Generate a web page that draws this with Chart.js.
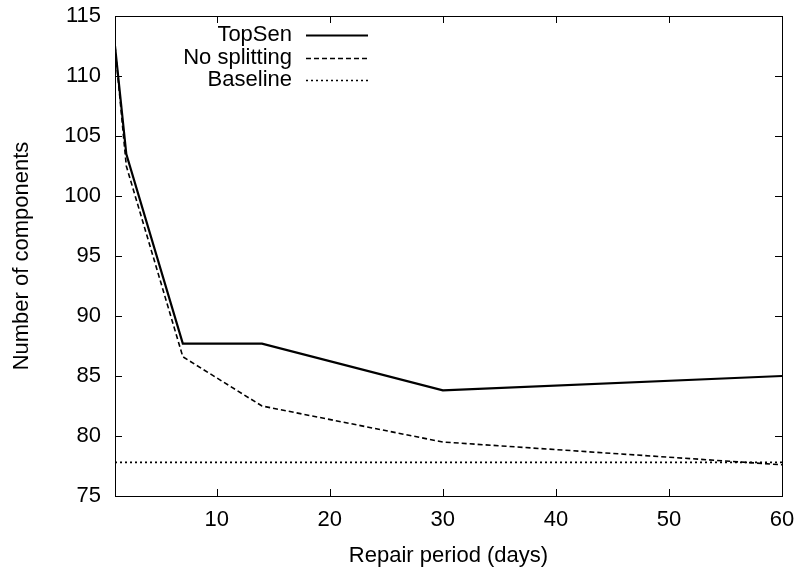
<!DOCTYPE html>
<html>
<head>
<meta charset="utf-8">
<script src="https://cdn.jsdelivr.net/npm/chart.js@4/dist/chart.umd.min.js"></script>
<style>
  html, body { margin: 0; padding: 0; background: #fff; }
  #wrap { width: 800px; height: 569px; }
</style>
</head>
<body>
<div id="wrap"><canvas id="c" width="800" height="569"></canvas></div>
<script>
// repair period (days) on x, number of components on y
var periods     = [1, 2, 7, 14, 30, 60];
var topSen      = [112.5, 103.5, 87.7, 87.7, 83.8, 85.0];
var noSplitting = [112.5, 102.5, 86.6, 82.5, 79.5, 77.6];
var baseline    = [77.8, 77.8, 77.8, 77.8, 77.8, 77.8];
var xTicks = [10, 20, 30, 40, 50, 60];
var yTicks = [75, 80, 85, 90, 95, 100, 105, 110, 115];

var FONT = 'Liberation Sans, Arial, Helvetica, sans-serif';
var FS = 22;

function pts(ys) {
  return periods.map(function (x, i) { return { x: x, y: ys[i] }; });
}

// gnuplot-style frame: box + inward ticks on all four sides
var frame = {
  id: 'frame',
  afterDatasetsDraw: function (chart) {
    var ctx = chart.ctx, a = chart.chartArea;
    var xs = chart.scales.x, ys = chart.scales.y;
    var L = 7;
    ctx.save();
    ctx.strokeStyle = '#000';
    ctx.lineWidth = 1;
    ctx.beginPath();
    xTicks.forEach(function (v) {
      var px = Math.round(xs.getPixelForValue(v)) + 0.5;
      ctx.moveTo(px, a.bottom); ctx.lineTo(px, a.bottom - L);
      ctx.moveTo(px, a.top);    ctx.lineTo(px, a.top + L);
    });
    yTicks.forEach(function (v) {
      var py = Math.round(ys.getPixelForValue(v)) + 0.5;
      ctx.moveTo(a.left, py);  ctx.lineTo(a.left + L, py);
      ctx.moveTo(a.right, py); ctx.lineTo(a.right - L, py);
    });
    ctx.stroke();
    ctx.strokeRect(Math.round(a.left) + 0.5, Math.round(a.top) + 0.5,
                   Math.round(a.right - a.left), Math.round(a.bottom - a.top));
    ctx.restore();
  }
};

// key: text right-aligned, sample line to the right of it
var key = {
  id: 'key',
  afterDatasetsDraw: function (chart) {
    var ctx = chart.ctx;
    var rows = [35, 58, 80];
    ctx.save();
    ctx.font = FS + 'px ' + FONT;
    ctx.textAlign = 'right';
    ctx.textBaseline = 'middle';
    chart.data.datasets.forEach(function (ds, i) {
      var y = rows[i];
      ctx.fillStyle = '#000';
      ctx.fillText(ds.label, 292, y);
      ctx.strokeStyle = ds.borderColor;
      ctx.lineWidth = ds.borderWidth;
      ctx.setLineDash(ds.borderDash || []);
      ctx.beginPath();
      ctx.moveTo(306, y + 0.5);
      ctx.lineTo(368, y + 0.5);
      ctx.stroke();
    });
    ctx.restore();
  }
};

new Chart(document.getElementById('c'), {
  type: 'line',
  data: {
    datasets: [
      { label: 'TopSen', data: pts(topSen), borderColor: '#000', borderWidth: 2.2, pointRadius: 0, fill: false, tension: 0 },
      { label: 'No splitting', data: pts(noSplitting), borderColor: '#000', borderWidth: 1.6, borderDash: [5, 3], pointRadius: 0, fill: false, tension: 0 },
      { label: 'Baseline', data: pts(baseline), borderColor: '#000', borderWidth: 1.6, borderDash: [2, 3], pointRadius: 0, fill: false, tension: 0 }
    ]
  },
  options: {
    responsive: false,
    animation: false,
    layout: { padding: { top: 16, right: 18, left: 0, bottom: 0 } },
    plugins: { legend: { display: false }, tooltip: { enabled: false } },
    scales: {
      x: {
        type: 'linear', min: 1, max: 60,
        afterBuildTicks: function (s) { s.ticks = xTicks.map(function (v) { return { value: v }; }); },
        afterFit: function (s) { s.height = 73; s.paddingLeft = 0; s.paddingRight = 0; },
        grid: { display: false, drawTicks: false },
        border: { display: false },
        ticks: { color: '#000', font: { family: FONT, size: FS }, padding: 11, maxRotation: 0 },
        title: { display: true, text: 'Repair period (days)', color: '#000', font: { family: FONT, size: FS }, padding: { top: 9, bottom: 0 } }
      },
      y: {
        min: 75, max: 115,
        afterBuildTicks: function (s) { s.ticks = yTicks.map(function (v) { return { value: v }; }); },
        afterFit: function (s) { s.width = 115; s.paddingTop = 0; s.paddingBottom = 0; },
        grid: { display: false, drawTicks: false },
        border: { display: false },
        ticks: { color: '#000', font: { family: FONT, size: FS }, padding: 14 },
        title: { display: true, text: 'Number of components', color: '#000', font: { family: FONT, size: FS }, padding: { top: 9, bottom: 0 } }
      }
    }
  },
  plugins: [frame, key]
});
</script>
</body>
</html>
